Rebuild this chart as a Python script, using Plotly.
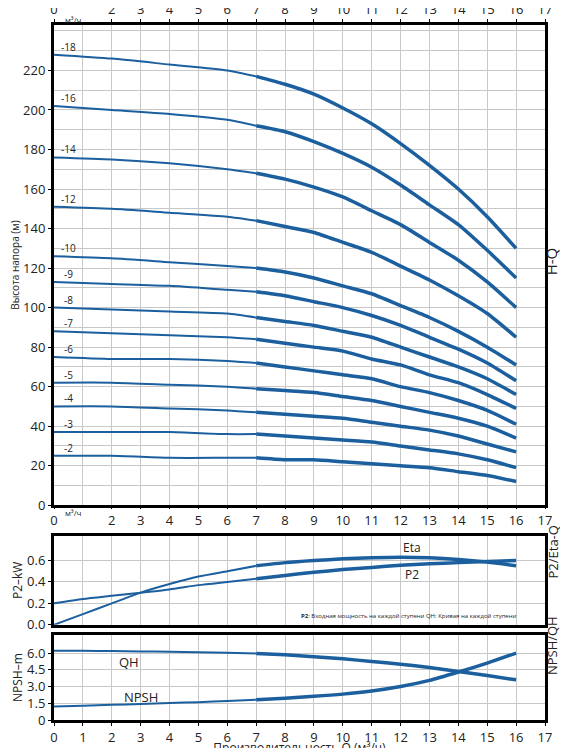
import plotly.graph_objects as go
from plotly.subplots import make_subplots

q = [0, 2, 4, 6, 7, 8, 9, 10, 11, 12, 13, 14, 15, 16]

stage_labels = ["-18", "-16", "-14", "-12", "-10", "-9", "-8", "-7", "-6", "-5", "-4", "-3", "-2"]
head_curves = [
    [228, 226, 223, 220, 217, 213, 208, 201, 193, 183, 172, 160, 146, 130],
    [202, 200, 198, 195, 192, 189, 184, 178, 171, 162, 152, 142, 129, 115],
    [176, 175, 173, 170, 168, 165, 161, 156, 149, 142, 133, 124, 113, 100],
    [151, 150, 148, 146, 144, 141, 138, 133, 128, 121, 114, 106, 97, 85],
    [126, 125, 123, 121, 120, 118, 115, 111, 107, 101, 95, 88, 80, 71],
    [113, 112, 111, 109, 108, 106, 103, 100, 96, 91, 85, 79, 72, 63],
    [100, 99, 98, 97, 95, 93, 91, 88, 85, 80, 75, 70, 64, 56],
    [88, 87, 86, 85, 84, 82, 80, 78, 74, 71, 66, 62, 56, 49],
    [75, 74, 74, 73, 72, 70, 68, 66, 64, 60, 57, 53, 48, 41],
    [62, 62, 61, 60, 59, 58, 57, 55, 53, 50, 47, 44, 40, 34],
    [50, 50, 49, 48, 47, 46, 45, 44, 42, 40, 38, 35, 31, 27],
    [37, 37, 37, 36, 36, 35, 34, 33, 32, 30, 28, 26, 23, 19],
    [25, 25, 24, 24, 24, 23, 23, 22, 21, 20, 19, 17, 15, 12],
]

q2 = [0, 1, 2, 3, 4, 5, 6, 7, 8, 9, 10, 11, 12, 13, 14, 15, 16]
eta = [0.0, 0.1, 0.2, 0.3, 0.38, 0.45, 0.5, 0.55, 0.58, 0.6, 0.615, 0.625, 0.63, 0.625, 0.61, 0.585, 0.55]
p2 = [0.2, 0.24, 0.27, 0.3, 0.33, 0.37, 0.4, 0.43, 0.46, 0.49, 0.515, 0.535, 0.555, 0.57, 0.58, 0.59, 0.6]
qh = [6.2, 6.2, 6.18, 6.15, 6.12, 6.08, 6.03, 5.97, 5.85, 5.68, 5.48, 5.25, 5.0, 4.7, 4.35, 3.98, 3.6]
npsh = [1.2, 1.28, 1.36, 1.44, 1.52, 1.6, 1.7, 1.82, 1.96, 2.12, 2.32, 2.6, 3.0, 3.55, 4.3, 5.1, 6.0]

BLUE = "#1c5f9e"
FONT = "Open Sans"

fig = make_subplots(rows=3, cols=1, shared_xaxes=False, vertical_spacing=0.02)


def add_split(x, y, row):
    # thin part up to Q=7, thick part after
    k = x.index(7)
    fig.add_trace(go.Scatter(x=x[:k + 1], y=y[:k + 1], mode="lines",
                             line=dict(color=BLUE, width=2, shape="spline", smoothing=0.6),
                             showlegend=False, hoverinfo="skip"), row=row, col=1)
    fig.add_trace(go.Scatter(x=x[k:], y=y[k:], mode="lines",
                             line=dict(color=BLUE, width=3.5, shape="spline", smoothing=0.6),
                             showlegend=False, hoverinfo="skip"), row=row, col=1)


for lab, h in zip(stage_labels, head_curves):
    add_split(q, h, 1)
    fig.add_annotation(x=0.5, y=h[0], text=lab, showarrow=False, yshift=8, font=dict(size=10, color="#222"),
                       xref="x", yref="y")

for s in (eta, p2):
    add_split(q2, s, 2)
for s in (qh, npsh):
    add_split(q2, s, 3)

fig.add_trace(go.Scatter(x=[0, 17], y=[None, None], xaxis="x4", yaxis="y", showlegend=False))

frame = dict(showline=True, linecolor="black", linewidth=3, mirror=True, showgrid=True, gridcolor="#c8c8c8",
             gridwidth=1, ticks="outside", ticklen=3, tickcolor="black", zeroline=False, automargin=False,
             tickfont=dict(size=13, color="#222"))
xticks = [0, 2, 3, 4, 5, 6, 7, 8, 9, 10, 11, 12, 13, 14, 15, 16, 17]

fig.update_layout(
    width=568, height=748, margin=dict(l=46, r=31, t=17, b=36),
    plot_bgcolor="white", paper_bgcolor="white", font=dict(family=FONT, color="#222"),
    xaxis=dict(frame, range=[0, 17], tickvals=xticks, side="top",
               minor=dict(dtick=1, showgrid=True, gridcolor="#c8c8c8"), domain=[0, 1]),
    xaxis4=dict(frame, range=[0, 17], tickvals=xticks, overlaying="x", anchor="y", side="bottom",
                showgrid=False, showline=False),
    yaxis=dict(frame, range=[0, 243], tickvals=list(range(0, 221, 20)), domain=[0.309, 1.0],
               minor=dict(dtick=10, showgrid=True, gridcolor="#c8c8c8"),
               title=dict(text="Высота напора (м)", font=dict(size=10), standoff=2)),
    xaxis2=dict(frame, range=[0, 17], dtick=1, showticklabels=False, ticks=""),
    yaxis2=dict(frame, range=[0, 0.83], tickvals=[0, 0.2, 0.4, 0.6], ticktext=["0.0", "0.2", "0.4", "0.6"],
                domain=[0.137, 0.265], title=dict(text="P2–kW", font=dict(size=12), standoff=2)),
    xaxis3=dict(frame, range=[0, 17], dtick=1,
                title=dict(text="Производительность Q (м³/ч)", font=dict(size=12), standoff=4)),
    yaxis3=dict(frame, range=[0, 7.6], tickvals=[0, 1.5, 3, 4.5, 6], ticktext=["0", "1.5", "3.0", "4.5", "6.0"],
                domain=[0, 0.122], title=dict(text="NPSH–m", font=dict(size=12), standoff=2)),
)

# "м³/ч" next to the 0 tick on both top-panel scales
for yy in (1.0, 0.309):
    fig.add_annotation(xref="x", yref="paper", x=0.3, y=yy, text="м³/ч", showarrow=False, font=dict(size=8),
                       xanchor="left", yshift=13 if yy == 1.0 else -15)

fig.add_annotation(xref="x2", yref="y2", x=12.4, y=0.72, text="Eta", showarrow=False, font=dict(size=12))
fig.add_annotation(xref="x2", yref="y2", x=12.4, y=0.47, text="P2", showarrow=False, font=dict(size=12))
fig.add_annotation(xref="x2", yref="y2", x=16.1, y=0.08, xanchor="right", showarrow=False, font=dict(size=6),
                   text="<b>P2</b>: Входная мощность на каждой ступени QH: Кривая на каждой ступени")
fig.add_annotation(xref="x3", yref="y3", x=2.6, y=5.2, text="QH", showarrow=False, font=dict(size=13))
fig.add_annotation(xref="x3", yref="y3", x=3.0, y=2.1, text="NPSH", showarrow=False, font=dict(size=13))

for txt, yy, sz in (("H-Q", 0.66, 15), ("P2/Eta-Q", 0.2, 13), ("NPSH/QH", 0.061, 13)):
    fig.add_annotation(xref="paper", yref="paper", x=1.0, y=yy, xshift=18, text=txt, textangle=-90,
                       showarrow=False, font=dict(size=sz))

fig.write_html("out.html")
